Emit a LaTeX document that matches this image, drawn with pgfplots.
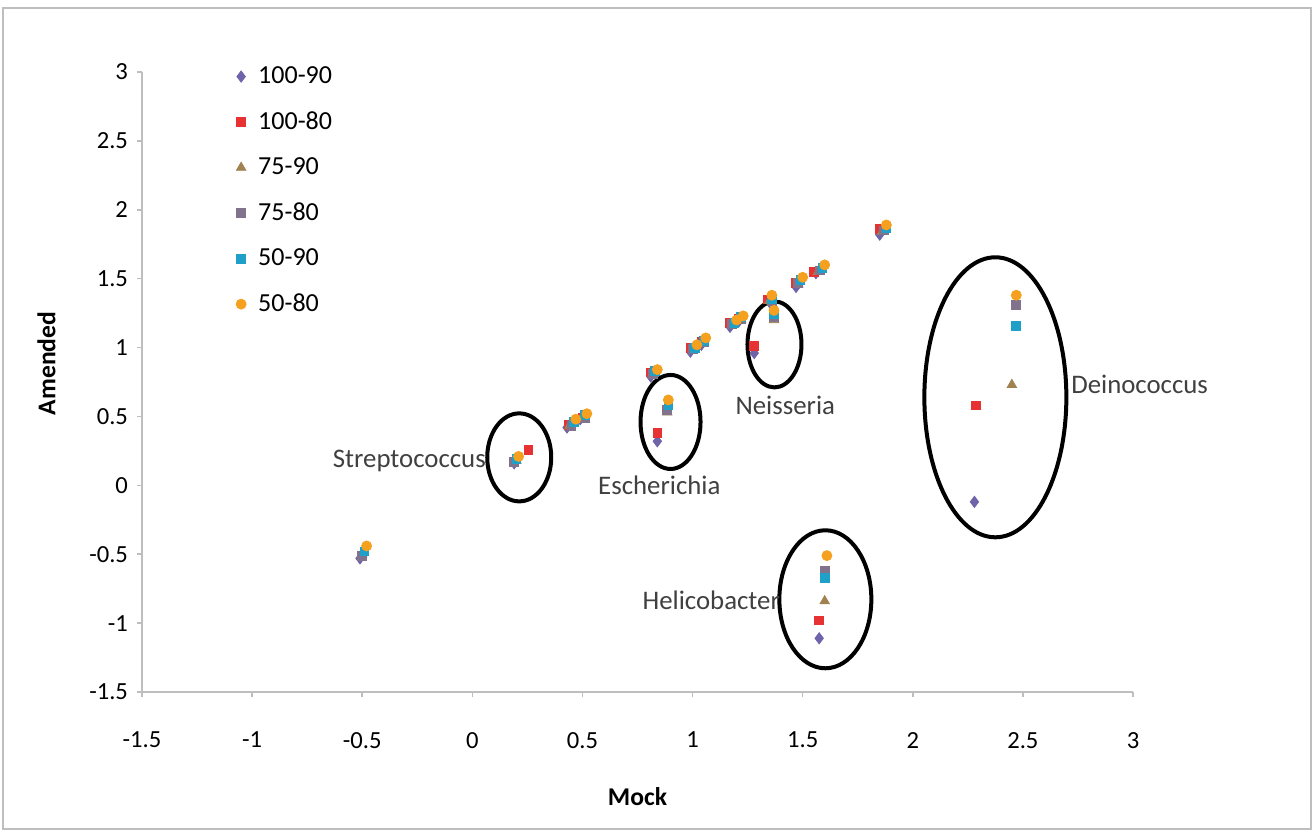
\documentclass[border=0pt]{standalone}
\usepackage{pgfplots}
\pgfplotsset{compat=1.18}
\usepackage{fontspec}
\setmainfont{Carlito}
\definecolor{cA}{RGB}{110,100,170}
\definecolor{cB}{RGB}{230,50,50}
\definecolor{cC}{RGB}{160,130,80}
\definecolor{cD}{RGB}{130,115,140}
\definecolor{cE}{RGB}{30,160,200}
\definecolor{cF}{RGB}{245,160,30}
\definecolor{axgray}{RGB}{190,190,190}
\definecolor{labgray}{RGB}{64,64,64}
\begin{document}
\begin{tikzpicture}
\useasboundingbox (-71pt,-70pt) rectangle (586.5pt,346pt);
\fill[white] (-71pt,-70pt) rectangle (586.5pt,346pt);
\draw[axgray, line width=1pt] (-69.5pt,-68.5pt) rectangle (584.5pt,342pt);
\begin{axis}[
  at={(0,0)}, anchor=south west,
  scale only axis, width=495.5pt, height=310pt,
  xmin=-1.5, xmax=3, ymin=-1.5, ymax=3,
  xtick={-1.5,-1,...,3}, ytick={-1.5,-1,...,3},
  axis x line*=bottom, axis y line*=left,
  axis line style={-, axgray, line width=0.8pt},
  tick style={axgray, line width=0.8pt},
  tick align=outside, major tick length=2.5pt,
  /pgf/number format/assume math mode=true,
  ticklabel style={font=\fontsize{12.3}{14}\selectfont, text=black},
  xticklabel style={yshift=-14pt},
  yticklabel style={xshift=-1pt},
  xlabel={\textbf{Mock}}, ylabel={\textbf{Amended}},
  label style={font=\fontsize{12.8}{15}\selectfont},
  xlabel shift=13pt, ylabel shift=10pt,
  ylabel style={at={(ticklabel cs:0.53)}},
  clip=false,
  legend style={at={(rel axis cs:0.089,1.019)}, anchor=north west, draw=none, fill=none,
    font=\fontsize{13}{15}\selectfont, row sep=8.6pt, inner sep=1pt},
  legend cell align=left,
  legend image code/.code={\path[draw=none,fill=none] (0cm,-0.01cm) rectangle (0.38cm,0.01cm); \draw[mark repeat=2,mark phase=2,#1,only marks] plot coordinates {(0cm,0cm) (0.15cm,0cm) (0.3cm,0cm)};},
]
\addplot[only marks, mark=diamond*, mark size=2.8pt, color=cA] coordinates {
(-0.51,-0.53) (0.19,0.16) (0.43,0.42) (0.49,0.48) (0.81,0.79) (0.84,0.32)
(0.99,0.97) (1.04,1.02) (1.17,1.15) (1.21,1.19) (1.28,0.96) (1.35,1.33)
(1.47,1.44) (1.56,1.54) (1.85,1.82) (1.575,-1.11) (2.28,-0.12)};
\addlegendentry{100-90}
\addplot[only marks, mark=square*, mark size=2.2pt, color=cB] coordinates {
(-0.5,-0.51) (0.255,0.255) (0.44,0.44) (0.5,0.49) (0.81,0.82) (0.84,0.38)
(0.99,1.0) (1.04,1.04) (1.17,1.18) (1.21,1.21) (1.28,1.01) (1.34,1.35)
(1.47,1.47) (1.55,1.55) (1.85,1.86) (1.575,-0.98) (2.285,0.58)};
\addlegendentry{100-80}
\addplot[only marks, mark=triangle*, mark size=2.7pt, color=cC] coordinates {
(-0.5,-0.5) (0.2,0.18) (0.44,0.43) (0.5,0.49) (0.82,0.81) (0.885,0.53)
(1.0,0.99) (1.05,1.03) (1.18,1.17) (1.22,1.2) (1.37,1.2) (1.35,1.34)
(1.48,1.46) (1.57,1.55) (1.86,1.84) (1.6,-0.84) (2.45,0.73)};
\addlegendentry{75-90}
\addplot[only marks, mark=square*, mark size=2.2pt, color=cD] coordinates {
(-0.5,-0.51) (0.19,0.17) (0.45,0.43) (0.51,0.49) (0.82,0.81) (0.885,0.55)
(1.0,0.99) (1.05,1.04) (1.18,1.17) (1.22,1.21) (1.37,1.22) (1.36,1.34)
(1.48,1.47) (1.58,1.56) (1.87,1.85) (1.6,-0.62) (2.47,1.31)};
\addlegendentry{75-80}
\addplot[only marks, mark=square*, mark size=2.2pt, color=cE] coordinates {
(-0.49,-0.48) (0.2,0.19) (0.46,0.46) (0.51,0.51) (0.83,0.83) (0.89,0.58)
(1.01,1.0) (1.05,1.05) (1.19,1.18) (1.22,1.22) (1.37,1.24) (1.36,1.35)
(1.49,1.49) (1.59,1.58) (1.88,1.87) (1.6,-0.67) (2.47,1.16)};
\addlegendentry{50-90}
\addplot[only marks, mark=*, mark size=2.5pt, color=cF] coordinates {
(-0.48,-0.44) (0.21,0.21) (0.47,0.48) (0.52,0.52) (0.84,0.84) (0.89,0.62)
(1.02,1.02) (1.06,1.07) (1.2,1.2) (1.23,1.23) (1.37,1.27) (1.36,1.38)
(1.5,1.51) (1.6,1.6) (1.88,1.89) (1.61,-0.51) (2.47,1.38)};
\addlegendentry{50-80}
% annotations
\draw[black, line width=2pt] (axis cs:0.213,0.203) ellipse [x radius=16pt, y radius=22pt];
\draw[black, line width=2pt] (axis cs:0.90,0.46) ellipse [x radius=15pt, y radius=23.5pt];
\draw[black, line width=2pt] (axis cs:1.372,1.023) ellipse [x radius=13.5pt, y radius=21.5pt];
\draw[black, line width=2pt] (axis cs:2.375,0.639) ellipse [x radius=35.5pt, y radius=70pt];
\draw[black, line width=2pt] (axis cs:1.603,-0.827) ellipse [x radius=23pt, y radius=34.5pt];
\begin{scope}[every node/.style={font=\fontsize{13.4}{15}\selectfont, text=labgray, inner sep=0pt}]
\node at (axis cs:-0.286,0.174) {Streptococcus};
\node at (axis cs:0.849,0.0) {Escherichia};
\node at (axis cs:1.421,0.58) {Neisseria};
\node at (axis cs:3.03,0.733) {Deinococcus};
\node at (axis cs:1.085,-0.835) {Helicobacter};
\end{scope}
\end{axis}
\end{tikzpicture}
\end{document}
